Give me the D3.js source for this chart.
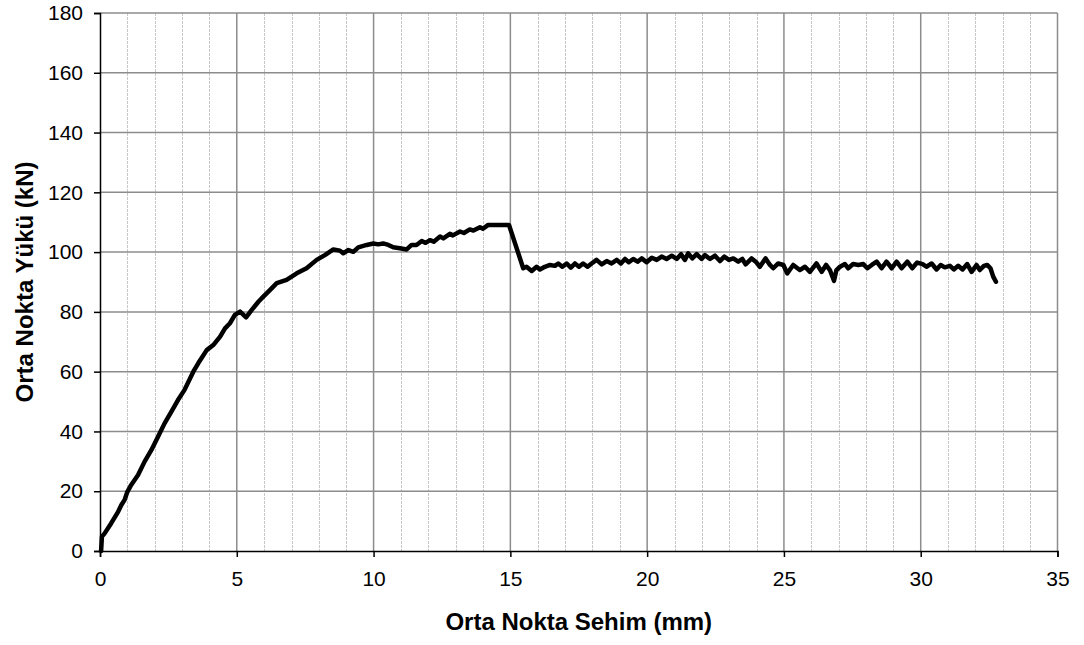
<!DOCTYPE html>
<html>
<head>
<meta charset="utf-8">
<script src="https://cdn.jsdelivr.net/npm/d3@7"></script>
<style>
  html, body { margin: 0; padding: 0; background: #fff; }
  svg { display: block; }
  text { font-family: "Liberation Sans", Arial, sans-serif; fill: #000; }
</style>
</head>
<body>
<svg id="chart" width="1084" height="645"></svg>
<script>
// Mid-span deflection (mm) and mid-span load (kN) of the tested beam
const deflection = [
  0.04, 0.07, 0.17, 0.41, 0.66, 0.78, 0.90, 1.00, 1.14, 1.39,
  1.63, 1.88, 2.12, 2.36, 2.61, 2.85, 3.09, 3.41, 3.59, 3.90,
  4.14, 4.39, 4.57, 4.75, 4.93, 5.12, 5.34, 5.54, 5.79, 5.97,
  6.21, 6.46, 6.82, 7.19, 7.55, 7.92, 8.22, 8.53, 8.77, 8.89,
  9.08, 9.26, 9.44, 9.75, 9.99, 10.17, 10.35, 10.54, 10.72, 10.96,
  11.21, 11.39, 11.57, 11.76, 11.90, 12.06, 12.20, 12.43, 12.55, 12.79,
  12.90, 13.16, 13.30, 13.52, 13.65, 13.89, 14.00, 14.19, 14.50, 14.95,
  15.47, 15.59, 15.78, 15.96, 16.08, 16.26, 16.45,
  16.63, 16.75, 16.90, 17.06, 17.21, 17.36, 17.51, 17.66, 17.82, 17.97,
  18.15, 18.34, 18.52, 18.70, 18.89, 19.04, 19.19, 19.33, 19.49, 19.65,
  19.80, 19.98, 20.17, 20.35, 20.53, 20.71, 20.90, 21.08, 21.24, 21.38,
  21.50, 21.65, 21.81, 21.99, 22.11, 22.30, 22.48, 22.66, 22.82, 22.99,
  23.15, 23.33, 23.48, 23.60, 23.82, 23.97, 24.12, 24.33, 24.49, 24.61,
  24.79, 24.98, 25.12, 25.34, 25.58, 25.77, 25.95, 26.19, 26.38, 26.54,
  26.68, 26.83, 26.92, 27.05, 27.23, 27.35, 27.53, 27.72, 27.90, 28.05,
  28.21, 28.39, 28.57, 28.75, 28.94, 29.12, 29.30, 29.51, 29.69, 29.87,
  30.07, 30.21, 30.40, 30.58, 30.73, 30.88, 31.07, 31.21, 31.37, 31.53,
  31.70, 31.86, 32.04, 32.16, 32.31, 32.43, 32.55, 32.65, 32.75
];
const load = [
  0.0, 4.8, 5.9, 9.3, 13.1, 15.4, 17.1, 19.8, 22.1, 25.4,
  29.9, 33.8, 38.2, 42.7, 46.6, 50.5, 53.9, 60.0, 62.8, 67.2,
  68.9, 71.7, 74.5, 76.2, 79.0, 80.1, 78.2, 80.6, 83.4, 85.1,
  87.3, 89.6, 90.7, 92.9, 94.6, 97.4, 99.0, 100.9, 100.5, 99.6,
  100.7, 100.1, 101.6, 102.4, 102.9, 102.6, 102.9, 102.4, 101.6, 101.3,
  100.9, 102.4, 102.4, 103.7, 103.1, 104.0, 103.5, 105.2, 104.6, 106.1,
  105.6, 106.9, 106.4, 107.6, 107.2, 108.3, 107.8, 109.1, 109.1, 109.1,
  94.6, 95.1, 93.7, 95.1, 94.2, 95.1, 95.7,
  95.4, 96.2, 95.1, 96.2, 94.8, 96.2, 95.1, 96.2, 95.1, 96.2,
  97.4, 95.9, 97.0, 96.2, 97.4, 96.2, 97.7, 96.6, 97.7, 96.8,
  97.9, 96.6, 98.1, 97.4, 98.5, 97.7, 98.8, 97.7, 99.3, 97.4,
  99.6, 97.9, 99.3, 97.7, 99.0, 97.7, 98.8, 97.0, 98.5, 97.4,
  97.9, 96.8, 97.7, 95.9, 97.9, 96.8, 95.1, 97.9, 95.7, 94.6,
  96.2, 95.7, 92.9, 95.7, 94.0, 95.1, 93.4, 96.2, 93.4, 95.7,
  94.0, 90.4, 94.0, 95.1, 96.0, 94.6, 96.0, 95.7, 96.0, 94.6,
  95.7, 96.8, 94.6, 96.8, 94.6, 96.8, 94.6, 96.8, 94.6, 96.5,
  96.0, 95.1, 96.2, 94.2, 95.7, 94.9, 95.4, 94.2, 95.4, 94.2,
  96.0, 93.4, 95.7, 94.0, 95.4, 95.7, 94.6, 91.8, 90.1
];

const xTicks = [0, 5, 10, 15, 20, 25, 30, 35];
const xMinorTicks = d3.range(0, 36, 1);
const yTicks = [0, 20, 40, 60, 80, 100, 120, 140, 160, 180];

const xTitle = "Orta Nokta Sehim (mm)";
const yTitle = "Orta Nokta Yükü (kN)";

const svg = d3.select("#chart");
const plotLeft = 100, plotRight = 1057.5, plotTop = 13, plotBottom = 551;

const x = d3.scaleLinear().domain([0, 35]).range([plotLeft, plotRight]);
const y = d3.scaleLinear().domain([0, 180]).range([plotBottom, plotTop]);

// minor vertical grid (every 1 mm)
svg.append("g")
  .selectAll("line")
  .data(xMinorTicks.filter(d => d % 5 !== 0))
  .join("line")
  .attr("x1", d => Math.round(x(d)) + 0.5).attr("x2", d => Math.round(x(d)) + 0.5)
  .attr("y1", plotTop).attr("y2", plotBottom)
  .attr("stroke", "#c8c8c8").attr("stroke-width", 1)
  .attr("stroke-dasharray", "3,1");

// major vertical grid (every 5 mm)
svg.append("g")
  .selectAll("line")
  .data(xTicks.filter(d => d > 0))
  .join("line")
  .attr("x1", d => x(d)).attr("x2", d => x(d))
  .attr("y1", plotTop).attr("y2", plotBottom)
  .attr("stroke", "#8c8c8c").attr("stroke-width", 1.5);

// horizontal grid
svg.append("g")
  .selectAll("line")
  .data(yTicks.filter(d => d > 0))
  .join("line")
  .attr("x1", plotLeft).attr("x2", plotRight)
  .attr("y1", d => y(d)).attr("y2", d => y(d))
  .attr("stroke", "#8c8c8c").attr("stroke-width", 1.5);

// axes
const xAxis = d3.axisBottom(x).tickValues(xTicks).tickSize(6).tickPadding(14);
const yAxis = d3.axisLeft(y).tickValues(yTicks).tickSize(6).tickPadding(11);

const gx = svg.append("g").attr("transform", `translate(0,${plotBottom})`).call(xAxis);
const gy = svg.append("g").attr("transform", `translate(${plotLeft},0)`).call(yAxis);

[gx, gy].forEach(g => {
  g.select(".domain").attr("stroke", "#000").attr("stroke-width", 1.5);
  g.selectAll(".tick line").attr("stroke", "#000").attr("stroke-width", 1.5);
  g.selectAll(".tick text")
    .attr("font-family", "'Liberation Sans', Arial, sans-serif")
    .attr("font-size", 21).attr("fill", "#000");
});

// load-deflection curve
const pts = deflection.map((d, i) => [d, load[i]]);
svg.append("path")
  .datum(pts)
  .attr("fill", "none")
  .attr("stroke", "#000")
  .attr("stroke-width", 4.5)
  .attr("stroke-linejoin", "round")
  .attr("stroke-linecap", "round")
  .attr("d", d3.line().x(d => x(d[0])).y(d => y(d[1])));

// axis titles
svg.append("text")
  .attr("x", (plotLeft + plotRight) / 2).attr("y", 630)
  .attr("text-anchor", "middle")
  .attr("font-size", 24).attr("font-weight", "bold")
  .text(xTitle);

svg.append("text")
  .attr("transform", `translate(33,${(plotTop + plotBottom) / 2}) rotate(-90)`)
  .attr("text-anchor", "middle")
  .attr("font-size", 24).attr("font-weight", "bold")
  .text(yTitle);
</script>
</body>
</html>
